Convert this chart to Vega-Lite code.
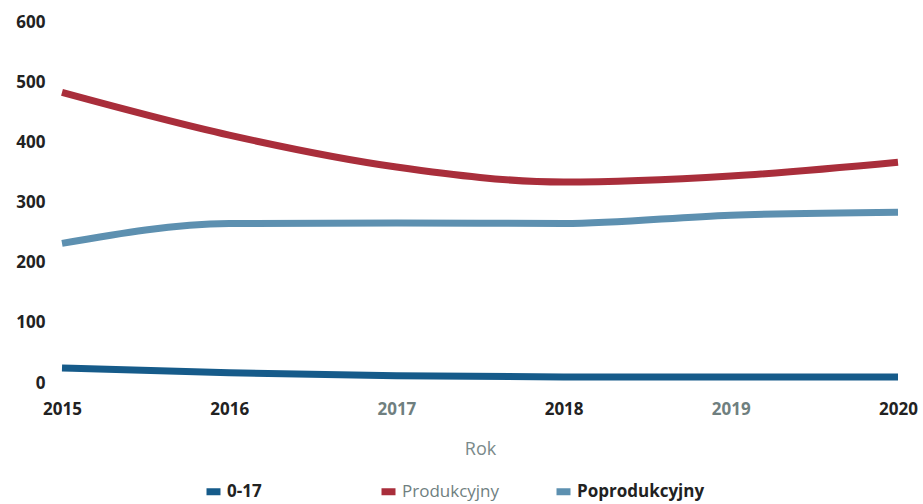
{
  "$schema": "https://vega.github.io/schema/vega-lite/v6.json",
  "width": 836,
  "height": 361,
  "autosize": {"type": "none"},
  "padding": {"left": 62, "top": 22, "right": 25, "bottom": 121},
  "background": "white",
  "config": {
    "view": {"stroke": null},
    "font": "Open Sans"
  },
  "data": {
    "values": [
      {"Rok": 2015, "Grupa": "0-17", "Liczba": 25},
      {"Rok": 2016, "Grupa": "0-17", "Liczba": 17},
      {"Rok": 2017, "Grupa": "0-17", "Liczba": 12},
      {"Rok": 2018, "Grupa": "0-17", "Liczba": 10},
      {"Rok": 2019, "Grupa": "0-17", "Liczba": 10},
      {"Rok": 2020, "Grupa": "0-17", "Liczba": 10},
      {"Rok": 2015, "Grupa": "Produkcyjny", "Liczba": 483},
      {"Rok": 2016, "Grupa": "Produkcyjny", "Liczba": 412},
      {"Rok": 2017, "Grupa": "Produkcyjny", "Liczba": 359},
      {"Rok": 2018, "Grupa": "Produkcyjny", "Liczba": 334},
      {"Rok": 2019, "Grupa": "Produkcyjny", "Liczba": 344},
      {"Rok": 2020, "Grupa": "Produkcyjny", "Liczba": 367},
      {"Rok": 2015, "Grupa": "Poprodukcyjny", "Liczba": 232},
      {"Rok": 2016, "Grupa": "Poprodukcyjny", "Liczba": 265},
      {"Rok": 2017, "Grupa": "Poprodukcyjny", "Liczba": 266},
      {"Rok": 2018, "Grupa": "Poprodukcyjny", "Liczba": 265},
      {"Rok": 2019, "Grupa": "Poprodukcyjny", "Liczba": 279},
      {"Rok": 2020, "Grupa": "Poprodukcyjny", "Liczba": 284}
    ]
  },
  "mark": {"type": "line", "strokeWidth": 7, "interpolate": "monotone", "strokeCap": "butt"},
  "encoding": {
    "x": {
      "field": "Rok",
      "type": "ordinal",
      "scale": {"type": "point", "padding": 0},
      "axis": {
        "title": "Rok",
        "labelAngle": 0,
        "domain": false,
        "ticks": false,
        "labelPadding": 18,
        "labelFont": "Open Sans",
        "labelFontSize": 17,
        "labelFontWeight": "bold",
        "labelColor": {"condition": {"test": "datum.value == 2017 || datum.value == 2019", "value": "#6f7f7f"}, "value": "#222222"},
        "titleFont": "Open Sans",
        "titleFontSize": 18,
        "titleFontWeight": "normal",
        "titleColor": "#7a8a8a",
        "titlePadding": 23
      }
    },
    "y": {
      "field": "Liczba",
      "type": "quantitative",
      "scale": {"domain": [0, 600]},
      "axis": {
        "title": null,
        "values": [0, 100, 200, 300, 400, 500, 600],
        "grid": false,
        "domain": false,
        "ticks": false,
        "labelPadding": 17,
        "labelFont": "Open Sans",
        "labelFontSize": 17,
        "labelFontWeight": "bold",
        "labelColor": "#222222"
      }
    },
    "color": {
      "field": "Grupa",
      "type": "nominal",
      "scale": {
        "domain": ["0-17", "Produkcyjny", "Poprodukcyjny"],
        "range": ["#165b8a", "#a92e3b", "#5d90b0"]
      },
      "legend": {
        "title": null,
        "orient": "none",
        "direction": "horizontal",
        "legendX": 141,
        "legendY": 459,
        "columns": 3,
        "gridAlign": "all",
        "columnPadding": 12,
        "symbolType": "stroke",
        "symbolSize": 196,
        "symbolStrokeWidth": 7,
        "labelFont": "Open Sans",
        "labelFontSize": 17,
        "labelFontWeight": "bold",
        "labelColor": "#222222",
        "labelOffset": 3,
        "encode": {
          "labels": {
            "update": {
              "fill": {"signal": "datum.value == 'Produkcyjny' ? '#6f7f7f' : '#222222'"},
              "fontWeight": {"signal": "datum.value == 'Produkcyjny' ? 'normal' : 'bold'"}
            }
          }
        }
      }
    }
  }
}
